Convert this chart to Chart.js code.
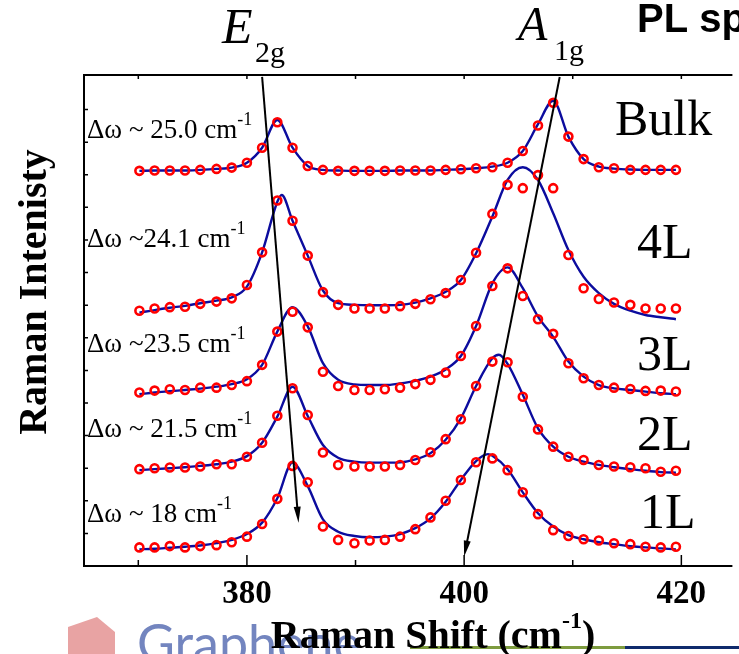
<!DOCTYPE html>
<html>
<head>
<meta charset="utf-8">
<title>Raman spectra</title>
<script src="https://cdn.jsdelivr.net/npm/chart.js@4.4.1/dist/chart.umd.min.js"></script>
<style>
  html, body { margin: 0; padding: 0; background: #fff; overflow: hidden; }
  #ramanChart { display: block; }
</style>
</head>
<body>
<canvas id="ramanChart" width="739" height="654"></canvas>
<script>
// --- data: Raman shift grid (cm-1) and intensities (a.u., stacked) ---
const shiftCm = [370.1, 371.5, 372.9, 374.3, 375.7, 377.2, 378.6, 380.0, 381.4, 382.8,
                 384.2, 385.6, 387.0, 388.4, 389.9, 391.3, 392.7, 394.1, 395.5, 396.9,
                 398.3, 399.7, 401.1, 402.6, 404.0, 405.4, 406.8, 408.2, 409.6, 411.0,
                 412.4, 413.8, 415.3, 416.7, 418.1, 419.5];

const bulkCounts = [12.12, 12.13, 12.13, 12.13, 12.15, 12.18, 12.22, 12.37, 12.83, 13.61,
                    12.83, 12.27, 12.15, 12.12, 12.12, 12.12, 12.12, 12.13, 12.13, 12.13,
                    12.15, 12.17, 12.20, 12.23, 12.37, 12.73, 13.51, 14.21, 13.17, 12.48,
                    12.23, 12.20, 12.15, 12.15, 12.15, 12.15];
const bulkFit = [12.12, 12.13, 12.13, 12.13, 12.15, 12.18, 12.22, 12.37, 12.83, 13.68,
                 12.83, 12.27, 12.15, 12.13, 12.12, 12.12, 12.12, 12.13, 12.13, 12.13,
                 12.15, 12.17, 12.20, 12.25, 12.37, 12.73, 13.55, 14.27, 13.17, 12.48,
                 12.25, 12.19, 12.16, 12.15, 12.15, 12.15];
const bulkPeaks = [];

const fourLCounts = [7.83, 7.90, 7.94, 7.95, 8.04, 8.11, 8.21, 8.62, 9.62, 11.21,
                     10.59, 9.52, 8.40, 8.01, 7.90, 7.90, 7.90, 7.97, 8.04, 8.18,
                     8.37, 8.77, 9.61, 10.80, 11.69, 11.59, 11.99, 11.59, 9.54, 8.52,
                     8.19, 8.08, 8.01, 7.90, 7.90, 7.90];
const fourLFit = [7.77, 7.85, 7.92, 7.98, 8.06, 8.14, 8.24, 8.57, 9.62, 11.17,
                  10.59, 9.52, 8.45, 8.06, 8.01, 8.00, 8.00, 8.01, 8.08, 8.21,
                  8.41, 8.77, 9.59, 10.72, 11.84, 12.23, 11.84, 10.82, 9.69, 8.87,
                  8.37, 8.04, 7.83, 7.70, 7.63, 7.57];
const fourLPeaks = [[383.2, 11.38]];

const threeLCounts = [5.32, 5.38, 5.42, 5.40, 5.47, 5.47, 5.55, 5.67, 6.17, 7.19,
                      7.80, 7.32, 5.96, 5.52, 5.40, 5.40, 5.42, 5.47, 5.58, 5.71,
                      5.93, 6.44, 7.36, 8.59, 9.13, 8.28, 7.57, 7.12, 6.22, 5.76,
                      5.55, 5.47, 5.43, 5.37, 5.38, 5.35];
const threeLFit = [5.27, 5.32, 5.36, 5.40, 5.44, 5.50, 5.58, 5.73, 6.17, 7.19,
                   7.94, 7.35, 6.22, 5.71, 5.57, 5.55, 5.55, 5.60, 5.68, 5.81,
                   6.03, 6.44, 7.36, 8.67, 9.16, 8.52, 7.65, 7.03, 6.27, 5.81,
                   5.55, 5.45, 5.40, 5.35, 5.30, 5.27];
const threeLPeaks = [];

const twoLCounts = [2.97, 3.00, 3.02, 3.02, 3.05, 3.12, 3.12, 3.35, 3.78, 4.61,
                    5.45, 4.63, 3.48, 3.10, 3.05, 3.05, 3.05, 3.10, 3.25, 3.49,
                    3.89, 4.50, 5.52, 6.27, 6.25, 5.19, 4.19, 3.66, 3.35, 3.25,
                    3.10, 3.05, 3.03, 3.00, 2.89, 2.92];
const twoLFit = [2.94, 2.97, 3.00, 3.03, 3.07, 3.12, 3.20, 3.37, 3.78, 4.58,
                 5.50, 4.60, 3.71, 3.32, 3.20, 3.17, 3.17, 3.18, 3.27, 3.46,
                 3.87, 4.53, 5.52, 6.37, 6.20, 5.25, 4.22, 3.66, 3.35, 3.20,
                 3.10, 3.03, 2.97, 2.92, 2.88, 2.86];
const twoLPeaks = [[403.2, 6.48]];

const oneLCounts = [0.57, 0.57, 0.61, 0.57, 0.61, 0.64, 0.73, 0.90, 1.29, 2.06,
                    3.07, 2.57, 1.21, 0.80, 0.70, 0.78, 0.80, 0.90, 1.13, 1.49,
                    2.00, 2.64, 3.18, 3.30, 2.94, 2.26, 1.59, 1.10, 0.92, 0.82,
                    0.78, 0.70, 0.67, 0.59, 0.57, 0.59];
const oneLFit = [0.51, 0.53, 0.56, 0.59, 0.63, 0.70, 0.80, 0.98, 1.33, 2.08,
                 3.17, 2.45, 1.43, 1.05, 0.92, 0.88, 0.90, 0.98, 1.16, 1.46,
                 1.97, 2.64, 3.22, 3.38, 2.97, 2.26, 1.62, 1.21, 0.95, 0.82,
                 0.73, 0.67, 0.61, 0.57, 0.54, 0.51];
const oneLPeaks = [[402.2, 3.43]];

// labels
const layerNames = ['Bulk', '4L', '3L', '2L', '1L'];
const fwhmText = ['\u0394\u03c9 ~ 25.0 cm', '\u0394\u03c9 ~24.1 cm', '\u0394\u03c9 ~23.5 cm',
                  '\u0394\u03c9 ~ 21.5 cm', '\u0394\u03c9 ~ 18 cm'];

// axis ticks
const majorTicks = [380, 400, 420];
const minorTicks = [370, 390, 410];
const yTicks = [1, 2, 3, 4, 5, 6, 7, 8, 9, 10, 11, 12, 13, 14];

// peak-shift arrows: [start, end] in (shift, intensity)
const arrowE2g = [[381.4, 15.0], [384.75, 1.33]];
const arrowA1g = [[408.8, 15.0], [400.0, 0.29]];

// --- build datasets ---
function fitPoints(fit, peaks) {
    const pts = shiftCm.map((x, i) => ({ x: x, y: fit[i] }));
    peaks.forEach(p => pts.push({ x: p[0], y: p[1] }));
    pts.sort((a, b) => a.x - b.x);
    return pts;
}

const spectra = [
    [bulkCounts, bulkFit, bulkPeaks],
    [fourLCounts, fourLFit, fourLPeaks],
    [threeLCounts, threeLFit, threeLPeaks],
    [twoLCounts, twoLFit, twoLPeaks],
    [oneLCounts, oneLFit, oneLPeaks]
];

const datasets = [];
spectra.forEach((s, i) => {
    datasets.push({
        label: layerNames[i] + ' fit',
        data: fitPoints(s[1], s[2]),
        borderColor: '#0c0c9e',
        borderWidth: 2.4,
        pointRadius: 0,
        cubicInterpolationMode: 'monotone',
        fill: false,
        order: 1
    });
    datasets.push({
        label: layerNames[i],
        data: shiftCm.map((x, j) => ({ x: x, y: s[0][j] })),
        showLine: false,
        pointStyle: 'circle',
        pointRadius: 4,
        pointBorderWidth: 2.6,
        pointBorderColor: '#ff0000',
        pointBackgroundColor: 'rgba(0,0,0,0)',
        order: 0
    });
});

const SERIF = '"Liberation Serif", "Times New Roman", serif';

// text with superscript pieces
function drawParts(c, x, y, parts) {
    parts.forEach(p => {
        c.font = p.font;
        c.fillText(p.text, x, y - (p.rise || 0));
        x += c.measureText(p.text).width;
    });
}
function partsWidth(c, parts) {
    let w = 0;
    parts.forEach(p => { c.font = p.font; w += c.measureText(p.text).width; });
    return w;
}

function drawArrow(c, x1, y1, x2, y2) {
    const ang = Math.atan2(y2 - y1, x2 - x1);
    const len = 16, half = 3.5;
    c.beginPath();
    c.moveTo(x1, y1);
    c.lineTo(x2 - Math.cos(ang) * len * 0.8, y2 - Math.sin(ang) * len * 0.8);
    c.stroke();
    c.beginPath();
    c.moveTo(x2, y2);
    c.lineTo(x2 - Math.cos(ang) * len - Math.sin(ang) * half, y2 - Math.sin(ang) * len + Math.cos(ang) * half);
    c.lineTo(x2 - Math.cos(ang) * len + Math.sin(ang) * half, y2 - Math.sin(ang) * len - Math.cos(ang) * half);
    c.closePath();
    c.fill();
}

const decorations = {
    id: 'decorations',
    beforeDraw(chart) {
        // page logo strip under the plot
        const c = chart.ctx;
        c.save();
        c.fillStyle = '#e8a3a3';
        c.beginPath();
        c.moveTo(68, 627); c.lineTo(97, 617); c.lineTo(115, 632);
        c.lineTo(115, 654); c.lineTo(68, 654);
        c.closePath();
        c.fill();
        c.fillStyle = '#7385bf';
        c.font = '52px Lato, "Open Sans", sans-serif';
        c.textAlign = 'left';
        c.textBaseline = 'alphabetic';
        c.fillText('Graphene', 137, 662);
        c.fillStyle = '#7d9b3e';
        c.fillRect(410, 646, 215, 3);
        c.fillStyle = '#0f2a6c';
        c.fillRect(625, 646, 114, 3);
        c.restore();
    },
    afterDraw(chart) {
        const c = chart.ctx;
        const a = chart.chartArea;
        const xs = chart.scales.x, ys = chart.scales.y;
        c.save();
        c.strokeStyle = '#000';
        c.fillStyle = '#000';

        // frame
        c.lineWidth = 2;
        c.beginPath();
        c.moveTo(a.left, a.top - 1); c.lineTo(a.left, a.bottom + 1);
        c.moveTo(a.left - 1, a.bottom); c.lineTo(a.right, a.bottom);
        c.moveTo(a.left - 1, a.top); c.lineTo(a.right, a.top);
        c.stroke();

        // inward ticks
        c.lineWidth = 1.5;
        c.beginPath();
        majorTicks.forEach(v => {
            const px = xs.getPixelForValue(v);
            c.moveTo(px, a.bottom); c.lineTo(px, a.bottom - 11);
            c.moveTo(px, a.top); c.lineTo(px, a.top + 4);
        });
        minorTicks.forEach(v => {
            const px = xs.getPixelForValue(v);
            c.moveTo(px, a.bottom); c.lineTo(px, a.bottom - 6);
            c.moveTo(px, a.top); c.lineTo(px, a.top + 4);
        });
        yTicks.forEach(v => {
            const py = ys.getPixelForValue(v);
            c.moveTo(a.left, py); c.lineTo(a.left + 4, py);
        });
        c.stroke();

        // tick labels
        c.font = 'bold 33px ' + SERIF;
        c.textAlign = 'center';
        c.textBaseline = 'alphabetic';
        majorTicks.forEach(v => c.fillText(String(v), xs.getPixelForValue(v), 603));

        // arrows
        c.lineWidth = 2;
        [arrowE2g, arrowA1g].forEach(ar => {
            drawArrow(c, xs.getPixelForValue(ar[0][0]), ys.getPixelForValue(ar[0][1]),
                         xs.getPixelForValue(ar[1][0]), ys.getPixelForValue(ar[1][1]));
        });

        // linewidth labels
        c.textAlign = 'left';
        const fwhmY = [138, 247, 352, 437, 522];
        fwhmText.forEach((t, i) => {
            drawParts(c, 87, fwhmY[i], [
                { text: t, font: '27px ' + SERIF },
                { text: '-1', font: '18px ' + SERIF, rise: 13 }
            ]);
        });

        // layer labels
        const layerPos = [[615, 135], [637, 258], [637, 370], [637, 450], [640, 528]];
        c.font = '50px ' + SERIF;
        layerNames.forEach((t, i) => c.fillText(t, layerPos[i][0], layerPos[i][1]));

        // mode names
        c.font = 'italic 50px ' + SERIF;
        c.fillText('E', 222, 43);
        c.font = '30px ' + SERIF;
        c.fillText('2g', 255, 62);
        c.font = 'italic 48px ' + SERIF;
        c.fillText('A', 518, 40);
        c.font = '30px ' + SERIF;
        c.fillText('1g', 554, 60);

        c.font = 'bold 40px "Liberation Sans", Arial, sans-serif';
        c.fillText('PL spectra', 637, 32);

        // axis titles
        const xTitle = [
            { text: 'Raman Shift (cm', font: 'bold 40px ' + SERIF },
            { text: '-1', font: 'bold 24px ' + SERIF, rise: 20 },
            { text: ')', font: 'bold 40px ' + SERIF }
        ];
        drawParts(c, 433 - partsWidth(c, xTitle) / 2, 648, xTitle);

        c.translate(46, 292);
        c.rotate(-Math.PI / 2);
        c.textAlign = 'center';
        c.font = 'bold 40px ' + SERIF;
        c.fillText('Raman Intenisty', 0, 0);
        c.restore();
    }
};

const ctx = document.getElementById('ramanChart').getContext('2d');
const ramanChart = new Chart(ctx, {
    type: 'line',
    data: { datasets: datasets },
    options: {
        responsive: false,
        animation: false,
        devicePixelRatio: 1,
        layout: { padding: { left: 84, top: 75, right: 0, bottom: 88 } },
        plugins: {
            legend: { display: false },
            tooltip: { enabled: false }
        },
        scales: {
            x: { type: 'linear', min: 365, max: 424.7, display: false },
            y: { type: 'linear', min: 0, max: 15.06, display: false }
        }
    },
    plugins: [decorations]
});
</script>
</body>
</html>
